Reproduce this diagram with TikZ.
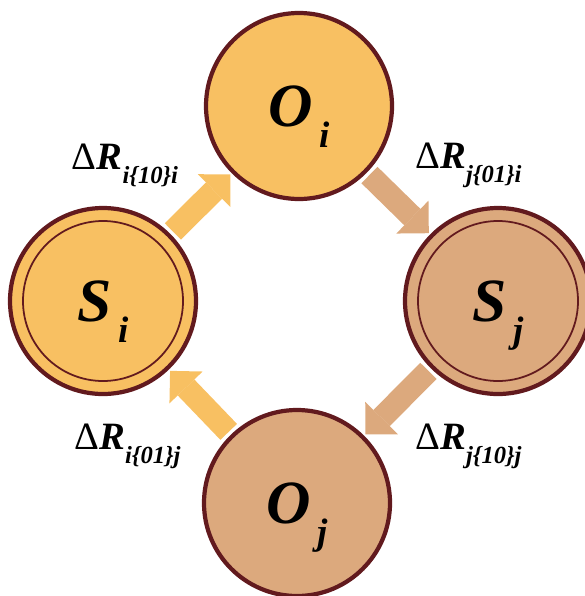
\documentclass[tikz,border=0pt]{standalone}
\usepackage{fontspec}
\setmainfont{Liberation Serif}
\usetikzlibrary{arrows.meta}

\definecolor{ringred}{HTML}{621A1E}
\definecolor{sandy}{HTML}{F8C062}
\definecolor{statetan}{HTML}{DCA97D}

\newcommand{\statename}[2]{\textbf{\textit{#1}}\raisebox{-12pt}[0pt][0pt]{\fontsize{21}{21}\selectfont\bfseries\itshape\,#2}}
\newcommand{\flowname}[1]{Δ\textbf{\textit{R}}\raisebox{-8pt}{\fontsize{14}{14}\selectfont\bfseries\itshape #1}}

\begin{document}
\begin{tikzpicture}[
    state/.style={
        circle, draw=ringred, line width=2.4pt,
        minimum size=3.72cm, inner sep=0pt,
        font=\fontsize{35}{37}\selectfont
    },
    ring/.style={
        path picture={\draw[ringred, line width=1pt]
            (path picture bounding box.center) circle (1.6cm);}
    },
    flow/.style={
        line width=0.46cm, shorten <=2pt, shorten >=1pt,
        -{Triangle[width=0.92cm, length=0.46cm, line width=0pt]}
    },
    flowlabel/.style={font=\fontsize{22}{24}\selectfont}
]

\useasboundingbox (0,0) rectangle (11.7,-11.92);

\node[state, fill=sandy]          (Oi) at (5.98,-2.12)  {\statename{O}{i}};
\node[state, ring, fill=sandy]    (Si) at (2.06,-6.02)  {\statename{S}{i}};
\node[state, ring, fill=statetan] (Sj) at (9.96,-6.02)  {\statename{S}{j}};
\node[state, fill=statetan]       (Oj) at (5.94,-10.06) {\statename{O}{j}};

\draw[flow, sandy]    (Si) -- (Oi);
\draw[flow, statetan] (Oi) -- (Sj);
\draw[flow, statetan] (Sj) -- (Oj);
\draw[flow, sandy]    (Oj) -- (Si);

\node[flowlabel] (rii) at (2.5,-3.3)   {\flowname{i\{10\}i}};
\node[flowlabel] (rji) at (9.37,-3.3)  {\flowname{j\{01\}i}};
\node[flowlabel] (rij) at (2.55,-8.92) {\flowname{i\{01\}j}};
\node[flowlabel] (rjj) at (9.37,-8.93) {\flowname{j\{10\}j}};

\end{tikzpicture}
\end{document}
